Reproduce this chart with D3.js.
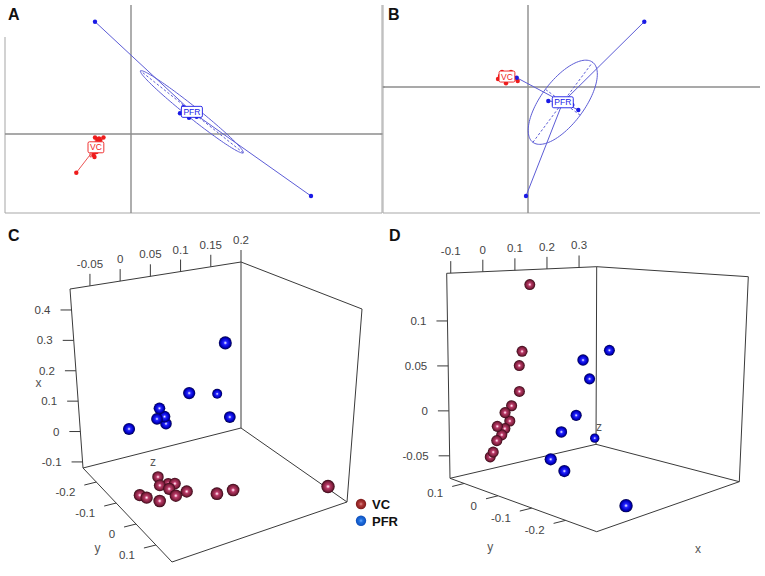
<!DOCTYPE html>
<html>
<head>
<meta charset="utf-8">
<script src="https://cdn.jsdelivr.net/npm/d3@7"></script>
<style>
  body { margin: 0; background: #fff; }
  svg { display: block; font-family: Arial, "Liberation Sans", sans-serif; }
</style>
</head>
<body>
<svg id="fig" width="765" height="576"></svg>
<script>
const groups = ["VC", "PFR"];

// panel A: group scores, [dim1, dim2]
const aVC = [[-0.36, -0.035], [-0.335, -0.055], [-0.31, -0.06], [-0.275, -0.035], [-0.32, -0.045],
  [-0.375, -0.21], [-0.365, -0.23], [-0.345, -0.18], [-0.33, -0.16], [-0.31, -0.12],
  [-0.36, -0.11], [-0.33, -0.10], [-0.547, -0.387]];
const aPFR = [[-0.36, 1.123], [1.80, -0.62], [0.49, 0.207], [0.523, 0.267], [0.58, 0.163],
  [0.657, 0.173], [0.55, 0.24], [0.61, 0.23], [0.63, 0.21]];

// panel B
const bVC = [[-0.22, 0.037], [-0.103, 0.06], [-0.28, 0.11], [-0.25, 0.13], [-0.20, 0.14],
  [-0.16, 0.12], [-0.24, 0.09], [-0.19, 0.08], [-0.15, 0.10], [-0.30, 0.08],
  [-0.21, 0.11], [-0.17, 0.15], [-0.26, 0.15]];
const bPFR = [[1.163, 0.653], [-0.02, -1.09], [-0.113, 0.093], [0.203, -0.14], [0.503, -0.23],
  [0.26, -0.17], [0.443, -0.18], [0.32, -0.16], [0.37, -0.15]];

// panel C: [x, y, z]
const cVC = [[-0.061, -0.081, -0.016], [-0.059, -0.043, -0.026], [-0.062, -0.043, -0.012],
  [-0.060, -0.034, -0.004], [-0.061, -0.021, -0.018], [-0.063, 0.011, -0.018],
  [-0.060, 0.011, 0.000], [-0.061, -0.030, -0.064], [-0.062, -0.014, -0.058],
  [-0.061, 0.015, -0.046], [-0.060, 0.056, 0.034], [-0.061, 0.060, 0.059],
  [-0.061, 0.169, 0.172]];
const cPFR = [[0.413, 0.091, 0.042], [0.232, 0.002, 0.014], [0.086, -0.177, 0.122],
  [0.110, -0.021, 0.084], [0.164, -0.063, -0.013], [0.131, -0.066, -0.017],
  [0.135, -0.062, -0.006], [0.109, -0.066, -0.003], [0.138, -0.043, -0.069]];
const cTicksX = [-0.1, 0, 0.1, 0.2, 0.3, 0.4];
const cTicksY = [-0.2, -0.1, 0, 0.1];
const cTicksZ = [-0.05, 0, 0.05, 0.1, 0.15, 0.2];

// panel D: [x, y, z]
const dVC = [[0.005, 0.012, 0.144], [-0.020, 0.012, 0.072], [-0.029, 0.012, 0.057],
  [-0.029, 0.012, 0.029], [-0.054, 0.012, 0.015], [-0.075, 0.012, 0.009],
  [-0.060, 0.012, -0.001], [-0.100, 0.012, -0.004], [-0.076, 0.012, -0.008],
  [-0.086, 0.012, -0.014], [-0.102, 0.012, -0.019], [-0.104, 0.021, -0.032],
  [-0.105, 0.029, -0.038]];
const dPFR = [[0.208, -0.032, 0.065], [0.102, -0.053, 0.061], [0.146, -0.032, 0.036],
  [0.104, -0.032, -0.002], [0.034, -0.053, -0.013], [0.305, 0.099, -0.058],
  [-0.048, -0.097, -0.031], [-0.004, -0.097, -0.047], [0.055, -0.227, -0.074]];
const dTicksX = [-0.1, 0, 0.1, 0.2, 0.3];
const dTicksY = [0.1, 0, -0.1, -0.2];
const dTicksZ = [-0.05, 0, 0.05, 0.1];

const col2d = { VC: "#ee1c1c", PFR: "#1a1ae6" };
const line2d = { VC: "#ec5555", PFR: "#5c5cd6" };

const svg = d3.select("#fig");
const defs = svg.append("defs");

function sphereGrad(id, stops) {
  const g = defs.append("radialGradient").attr("id", id)
    .attr("cx", "50%").attr("cy", "50%").attr("r", "52%");
  stops.forEach(s => g.append("stop").attr("offset", s[0]).attr("stop-color", s[1]));
}
sphereGrad("sphPFR", [["0%", "#ffffff"], ["13%", "#9a9aff"], ["28%", "#2424ff"], ["68%", "#0000c4"], ["100%", "#000038"]]);
sphereGrad("sphVC", [["0%", "#ffffff"], ["13%", "#f0a8c4"], ["30%", "#b83a68"], ["68%", "#82213f"], ["100%", "#2a0410"]]);
sphereGrad("legVC", [["0%", "#e09090"], ["35%", "#b03838"], ["100%", "#7a1818"]]);
sphereGrad("legPFR", [["0%", "#6aaaff"], ["35%", "#2070e0"], ["100%", "#0c4cb8"]]);

// ---------- 2-D group plots (A, B) ----------
function ellipseOf(pts) {
  const mx = d3.mean(pts, d => d[0]), my = d3.mean(pts, d => d[1]);
  const vx = d3.mean(pts, d => (d[0] - mx) ** 2);
  const vy = d3.mean(pts, d => (d[1] - my) ** 2);
  const cv = d3.mean(pts, d => (d[0] - mx) * (d[1] - my));
  const tr = vx + vy, det = vx * vy - cv * cv;
  const disc = Math.sqrt(Math.max(tr * tr / 4 - det, 0));
  const l1 = tr / 2 + disc, l2 = Math.max(tr / 2 - disc, 0);
  let e1 = Math.abs(cv) > 1e-12 ? [cv, l1 - vx] : (vx >= vy ? [1, 0] : [0, 1]);
  const n = Math.hypot(e1[0], e1[1]);
  e1 = [e1[0] / n, e1[1] / n];
  const e2 = [-e1[1], e1[0]];
  return { mx, my, a: Math.sqrt(l1), b: Math.sqrt(l2), e1, e2 };
}

function groupPlot(g, sets, x, y) {
  groups.forEach(k => {
    const pts = sets[k];
    const el = ellipseOf(pts);
    const c = [el.mx, el.my];
    const ring = d3.range(0, 2 * Math.PI + 0.01, Math.PI / 60).map(t => [
      el.mx + el.a * Math.cos(t) * el.e1[0] + el.b * Math.sin(t) * el.e2[0],
      el.my + el.a * Math.cos(t) * el.e1[1] + el.b * Math.sin(t) * el.e2[1]]);
    const ln = d3.line().x(d => x(d[0])).y(d => y(d[1]));
    g.append("path").attr("d", ln(ring)).attr("fill", "none")
      .attr("stroke", line2d[k]).attr("stroke-width", 1);
    [[el.e1, el.a], [el.e2, el.b]].forEach(([e, s]) => {
      g.append("line")
        .attr("x1", x(el.mx - s * e[0])).attr("y1", y(el.my - s * e[1]))
        .attr("x2", x(el.mx + s * e[0])).attr("y2", y(el.my + s * e[1]))
        .attr("stroke", line2d[k]).attr("stroke-width", 1).attr("stroke-dasharray", "2.5,2");
    });
    g.selectAll(null).data(pts).enter().append("line")
      .attr("x1", x(c[0])).attr("y1", y(c[1]))
      .attr("x2", d => x(d[0])).attr("y2", d => y(d[1]))
      .attr("stroke", line2d[k]).attr("stroke-width", 1);
    g.selectAll(null).data(pts).enter().append("circle")
      .attr("cx", d => x(d[0])).attr("cy", d => y(d[1])).attr("r", 2.2)
      .attr("fill", col2d[k]);
  });
  groups.forEach(k => {
    const el = ellipseOf(sets[k]);
    const lab = g.append("g");
    const t = lab.append("text").attr("x", x(el.mx)).attr("y", y(el.my) + 3)
      .attr("text-anchor", "middle").attr("font-size", 8.5).attr("fill", col2d[k]).text(k);
    const bb = t.node().getBBox();
    lab.insert("rect", "text").attr("x", bb.x - 2).attr("y", bb.y - 0.5)
      .attr("width", bb.width + 4).attr("height", bb.height + 1).attr("rx", 1.5)
      .attr("fill", "#fff").attr("stroke", col2d[k]).attr("stroke-width", 0.9);
  });
}

function frameLine(g, x1, y1, x2, y2, c, w) {
  g.append("line").attr("x1", x1).attr("y1", y1).attr("x2", x2).attr("y2", y2)
    .attr("stroke", c).attr("stroke-width", w);
}

// panel A
const xA = d3.scaleLinear().domain([-1.26, 2.51]).range([5, 382]);
const yA = d3.scaleLinear().domain([-0.79, 1.29]).range([213, 5]);
const gA = svg.append("g");
frameLine(gA, 5, 37, 5, 213, "#b4b4b4", 1.2);
frameLine(gA, 5, 213, 382, 213, "#a8a8a8", 1.2);
frameLine(gA, 382, 5, 382, 213, "#b4b4b4", 1.2);
frameLine(gA, 382, 87, 385, 87, "#999", 1);
frameLine(gA, xA(0), 5, xA(0), 213, "#8c8c8c", 1.4);
frameLine(gA, 5, yA(0), 382, yA(0), "#8c8c8c", 1.4);
groupPlot(gA, { VC: aVC, PFR: aPFR }, xA, yA);

// panel B
const xB = d3.scaleLinear().domain([-1.45, 2.32]).range([383, 760]);
const yB = d3.scaleLinear().domain([-1.26, 0.82]).range([213, 5]);
const gB = svg.append("g");
frameLine(gB, 383, 5, 383, 213, "#b4b4b4", 1.2);
frameLine(gB, 380, 134, 383, 134, "#999", 1);
frameLine(gB, 383, 213, 760, 213, "#a8a8a8", 1.2);
frameLine(gB, xB(0), 5, xB(0), 213, "#8c8c8c", 1.4);
frameLine(gB, 383, yB(0), 760, yB(0), "#8c8c8c", 1.4);
groupPlot(gB, { VC: bVC, PFR: bPFR }, xB, yB);

// ---------- 3-D scatter (C, D) ----------
const lerp = (a, b, t) => [a[0] + (b[0] - a[0]) * t, a[1] + (b[1] - a[1]) * t];

function scatter3d(g, cfg) {
  const K = cfg.corners;
  const proj = (u, v, w) => {
    const back = lerp(lerp(K["000"], K["100"], u), lerp(K["010"], K["110"], u), v);
    const front = lerp(lerp(K["001"], K["101"], u), lerp(K["011"], K["111"], u), v);
    return lerp(back, front, w);
  };
  const edges = [["100", "110"], ["110", "111"], ["111", "011"], ["100", "000"], ["110", "010"],
    ["000", "010"], ["010", "011"], ["000", "001"], ["001", "011"]];
  edges.forEach(([a, b]) => {
    const p = proj(+a[0], +a[1], +a[2]), q = proj(+b[0], +b[1], +b[2]);
    frameLine(g, p[0], p[1], q[0], q[1], "#3a3a3a", 1);
  });

  const tickText = (p, dx, dy, anchor, s) => g.append("text")
    .attr("x", p[0] + dx).attr("y", p[1] + dy).attr("text-anchor", anchor)
    .attr("font-size", 11.5).attr("fill", "#444").text(s);

  // vertical axis (u)
  cfg.uTicks.forEach(t => {
    const p = proj(cfg.su(t), 0, 0);
    frameLine(g, p[0], p[1], p[0] - 11, p[1], "#3a3a3a", 1);
    tickText(p, -21, 4, "end", String(t));
  });
  // top axis (v)
  cfg.vTicks.forEach(t => {
    const p = proj(1, cfg.sv(t), 0);
    frameLine(g, p[0], p[1], p[0], p[1] - 12, "#3a3a3a", 1);
    tickText(p, 0, -18, "middle", String(t));
  });
  // depth axis (w)
  cfg.wTicks.forEach(t => {
    const p = proj(0, 0, cfg.sw(t));
    frameLine(g, p[0], p[1], p[0] - 12, p[1] + 3, "#3a3a3a", 1);
    tickText(p, -21, 14, "end", String(t));
  });
  cfg.titles.forEach(tt => {
    const p = proj(tt.at[0], tt.at[1], tt.at[2]);
    g.append("text").attr("x", p[0] + tt.dx).attr("y", p[1] + tt.dy)
      .attr("text-anchor", "middle").attr("font-size", 12).attr("fill", "#555").text(tt.label);
  });

  const balls = [];
  groups.forEach(k => cfg.sets[k].forEach(d => {
    const uvw = cfg.uvw(d);
    const p = proj(uvw[0], uvw[1], uvw[2]);
    balls.push({ k, p, r: 4.9 + 2.3 * uvw[2] - 0.5 * uvw[1], depth: uvw[2] - 0.5 * uvw[1] + 0.2 * uvw[0] });
  }));
  balls.sort((a, b) => d3.ascending(a.depth, b.depth));
  g.selectAll(null).data(balls).enter().append("circle")
    .attr("cx", d => d.p[0]).attr("cy", d => d.p[1]).attr("r", d => d.r)
    .attr("fill", d => "url(#sph" + d.k + ")");
}

const gC = svg.append("g");
scatter3d(gC, {
  corners: { "000": [83, 468], "100": [70, 289], "010": [241, 428], "110": [241, 262],
    "001": [172, 562], "101": [152, 358], "011": [347, 502], "111": [362, 309] },
  su: d3.scaleLinear().domain([-0.12, 0.469]).range([0, 1]),
  sv: d3.scaleLinear().domain([-0.083, 0.2]).range([0, 1]),
  sw: d3.scaleLinear().domain([-0.267, 0.181]).range([0, 1]),
  get uvw() { return d => [this.su(d[0]), this.sv(d[2]), this.sw(d[1])]; },
  uTicks: cTicksX, vTicks: cTicksZ, wTicks: cTicksY,
  titles: [{ label: "x", at: [0.5, 0, 0], dx: -38, dy: 8 },
    { label: "y", at: [0, 0, 0.5], dx: -30, dy: 37 },
    { label: "z", at: [0, 0.5, 0], dx: -9, dy: 18 }],
  sets: { VC: cVC, PFR: cPFR }
});

const gD = svg.append("g");
scatter3d(gD, {
  corners: { "000": [450, 478.3], "100": [446.7, 273.3], "010": [596, 444.3], "110": [596.7, 266.7],
    "001": [596.7, 531.7], "101": [598, 291], "011": [739.3, 481.7], "111": [748.3, 276.7] },
  su: d3.scaleLinear().domain([-0.075, 0.153]).range([0, 1]),
  sv: d3.scaleLinear().domain([-0.1126, 0.355]).range([0, 1]),
  sw: d3.scaleLinear().domain([0.142, -0.292]).range([0, 1]),
  get uvw() { return d => [this.su(d[2]), this.sv(d[0]), this.sw(d[1])]; },
  uTicks: dTicksZ, vTicks: dTicksX, wTicks: dTicksY,
  titles: [{ label: "z", at: [0, 1, 0], dx: 3, dy: -13 },
    { label: "y", at: [0, 0, 0.5], dx: -33, dy: 46 },
    { label: "x", at: [0, 0.5, 1], dx: 30, dy: 46 }],
  sets: { VC: dVC, PFR: dPFR }
});

// legend
const leg = svg.append("g").attr("transform", "translate(361,504)");
groups.forEach((k, i) => {
  leg.append("circle").attr("cx", 0).attr("cy", i * 16.7).attr("r", 5.2).attr("fill", "url(#leg" + k + ")");
  leg.append("text").attr("x", 11).attr("y", i * 16.7 + 4.8).attr("font-size", 13)
    .attr("font-weight", "bold").attr("fill", "#111").text(k);
});

// panel letters
[["A", 8, 20], ["B", 388, 20], ["C", 8, 241], ["D", 389, 241]].forEach(([s, px, py]) => {
  svg.append("text").attr("x", px).attr("y", py).attr("font-size", 16)
    .attr("font-weight", "bold").attr("fill", "#111").text(s);
});
</script>
</body>
</html>
